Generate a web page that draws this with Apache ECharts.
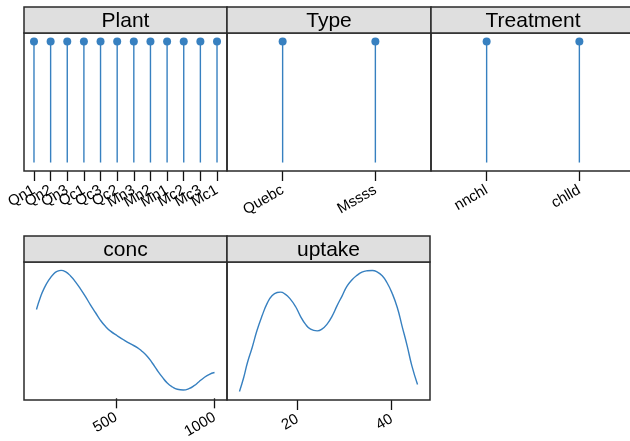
<!DOCTYPE html>
<html lang="en">
<head>
    <meta charset="UTF-8">
    <title>CO2 variable overview</title>
    <style>
        html, body { margin: 0; padding: 0; background: #fff; }
    </style>
</head>
<body>
<div id="main" style="width: 630px;height:441px;"></div>

<script src="https://cdn.jsdelivr.net/npm/echarts@6/dist/echarts.min.js"></script>
<script>
    // factor levels and their counts
    var plantLevels = ['Qn1', 'Qn2', 'Qn3', 'Qc1', 'Qc3', 'Qc2', 'Mn3', 'Mn2', 'Mn1', 'Mc2', 'Mc3', 'Mc1'];
    var plantCounts = [7, 7, 7, 7, 7, 7, 7, 7, 7, 7, 7, 7];
    var typeLevels = ['Quebc', 'Mssss'];
    var typeCounts = [42, 42];
    var treatLevels = ['nnchl', 'chlld'];
    var treatCounts = [42, 42];

    // density curves (relative height)
    var concX = [96, 116, 133, 159, 184, 201, 221, 243, 269, 294, 320, 345, 370, 396, 421, 447, 472, 506, 540, 574,
        608, 633, 659, 684, 709, 735, 760, 786, 811, 841, 870, 896, 921, 946, 972, 1000];
    var concDens = [245, 282, 307, 335, 354, 361, 364, 360, 347, 329, 307, 284, 259, 235, 212, 193, 179, 165, 152, 140,
        129, 117, 102, 82, 60, 39, 21, 9, 2, 0, 4, 13, 25, 37, 47, 53];
    var uptakeX = [7.7, 8.6, 9.4, 10.4, 11.4, 12.5, 13.6, 14.6, 15.7, 16.4, 17.4, 18.5, 19.6, 20.6, 21.7, 22.8, 24.2,
        25.2, 26.3, 27.4, 28.4, 29.5, 30.5, 31.6, 32.7, 33.7, 34.8, 35.9, 36.9, 38.0, 39.0, 40.1, 41.2, 42.2, 43.3, 44.3, 45.5];
    var uptakeDens = [0, 42, 87, 132, 182, 227, 265, 287, 297, 298, 292, 277, 255, 227, 202, 187, 182,
        187, 202, 227, 257, 287, 315, 335, 349, 358, 362, 363, 359, 347, 327, 295, 252, 197, 137, 77, 21];

    var blue = '#3780c0';
    var border = '#2a2a2a';
    var labelFont = '"Liberation Sans", Arial, sans-serif';

    function pad(lo, hi) {
        var d = (hi - lo) * 0.07;
        return [lo - d, hi + d];
    }
    function pairs(xs, ys) {
        return xs.map(function (x, i) { return [x, ys[i]]; });
    }

    var panels = [
        {left: 24, top: 33, width: 203, title: 'Plant'},
        {left: 227, top: 33, width: 204, title: 'Type'},
        {left: 431, top: 33, width: 204, title: 'Treatment'},
        {left: 24, top: 262, width: 203, title: 'conc'},
        {left: 227, top: 262, width: 203, title: 'uptake'}
    ];
    var panelH = 138, stripH = 26;

    var factors = [
        {levels: plantLevels, counts: plantCounts},
        {levels: typeLevels, counts: typeCounts},
        {levels: treatLevels, counts: treatCounts}
    ];

    var grids = [], xAxes = [], yAxes = [], series = [], graphics = [];

    panels.forEach(function (p) {
        graphics.push({
            type: 'rect', z: 10,
            shape: {x: p.left, y: p.top, width: p.width, height: panelH},
            style: {fill: null, stroke: border, lineWidth: 1.5}
        });
        graphics.push({
            type: 'rect', z: 10,
            shape: {x: p.left, y: p.top - stripH, width: p.width, height: stripH},
            style: {fill: '#dfdfdf', stroke: border, lineWidth: 1.5}
        });
        graphics.push({
            type: 'text', z: 11,
            x: p.left + p.width / 2, y: p.top - stripH / 2 + 1,
            style: {
                text: p.title, fill: '#000', font: '21px ' + labelFont,
                textAlign: 'center', textVerticalAlign: 'middle'
            }
        });
    });

    var tickStyle = {show: true, inside: false, length: 10, alignWithLabel: true, lineStyle: {color: '#111', width: 1.3}};
    var labelStyle = {
        show: true, rotate: 30, margin: 18, interval: 0,
        color: '#000', fontSize: 15, fontFamily: labelFont
    };

    // factor panels: category axis, 0.6 level of padding each side of the panel
    factors.forEach(function (f, i) {
        var p = panels[i];
        var n = f.levels.length;
        var step = p.width / (n + 0.2);
        grids.push({left: p.left + 0.1 * step, top: p.top, width: n * step, height: panelH});
        xAxes.push({
            type: 'category', gridIndex: i, data: f.levels,
            axisLine: {show: false, onZero: false},
            splitLine: {show: false},
            axisTick: Object.assign({interval: 0}, tickStyle),
            axisLabel: labelStyle
        });
        var yr = pad(0, Math.max.apply(null, f.counts));
        yAxes.push({type: 'value', gridIndex: i, min: yr[0], max: yr[1], show: false});
        series.push({
            type: 'bar', xAxisIndex: i, yAxisIndex: i, data: f.counts,
            barWidth: 1.4, itemStyle: {color: blue}, silent: true
        });
        series.push({
            type: 'scatter', xAxisIndex: i, yAxisIndex: i, data: f.counts,
            symbolSize: 8, itemStyle: {color: blue, opacity: 1}, silent: true
        });
    });

    // numeric panels: density curves
    var dens = [
        {x: concX, y: concDens, ticks: [500, 1000]},
        {x: uptakeX, y: uptakeDens, ticks: [20, 40]}
    ];
    dens.forEach(function (d, k) {
        var i = k + 3;
        var p = panels[i];
        grids.push({left: p.left, top: p.top, width: p.width, height: panelH});
        var xr = pad(Math.min.apply(null, d.x), Math.max.apply(null, d.x));
        xAxes.push({
            type: 'value', gridIndex: i, min: xr[0], max: xr[1],
            axisLine: {show: false, onZero: false},
            splitLine: {show: false},
            axisTick: Object.assign({customValues: d.ticks}, tickStyle),
            axisLabel: Object.assign({
                customValues: d.ticks, showMinLabel: true, showMaxLabel: true,
                formatter: function (v) { return String(v); }
            }, labelStyle)
        });
        var yr = pad(Math.min.apply(null, d.y), Math.max.apply(null, d.y));
        yAxes.push({type: 'value', gridIndex: i, min: yr[0], max: yr[1], show: false});
        series.push({
            type: 'line', xAxisIndex: i, yAxisIndex: i, data: pairs(d.x, d.y),
            smooth: 0.5, showSymbol: false, silent: true,
            lineStyle: {color: blue, width: 1.4}
        });
    });

    var chart = echarts.init(document.getElementById('main'));
    chart.setOption({
        animation: false,
        backgroundColor: '#fff',
        grid: grids,
        xAxis: xAxes,
        yAxis: yAxes,
        series: series,
        graphic: graphics
    });
</script>
</body>
</html>
